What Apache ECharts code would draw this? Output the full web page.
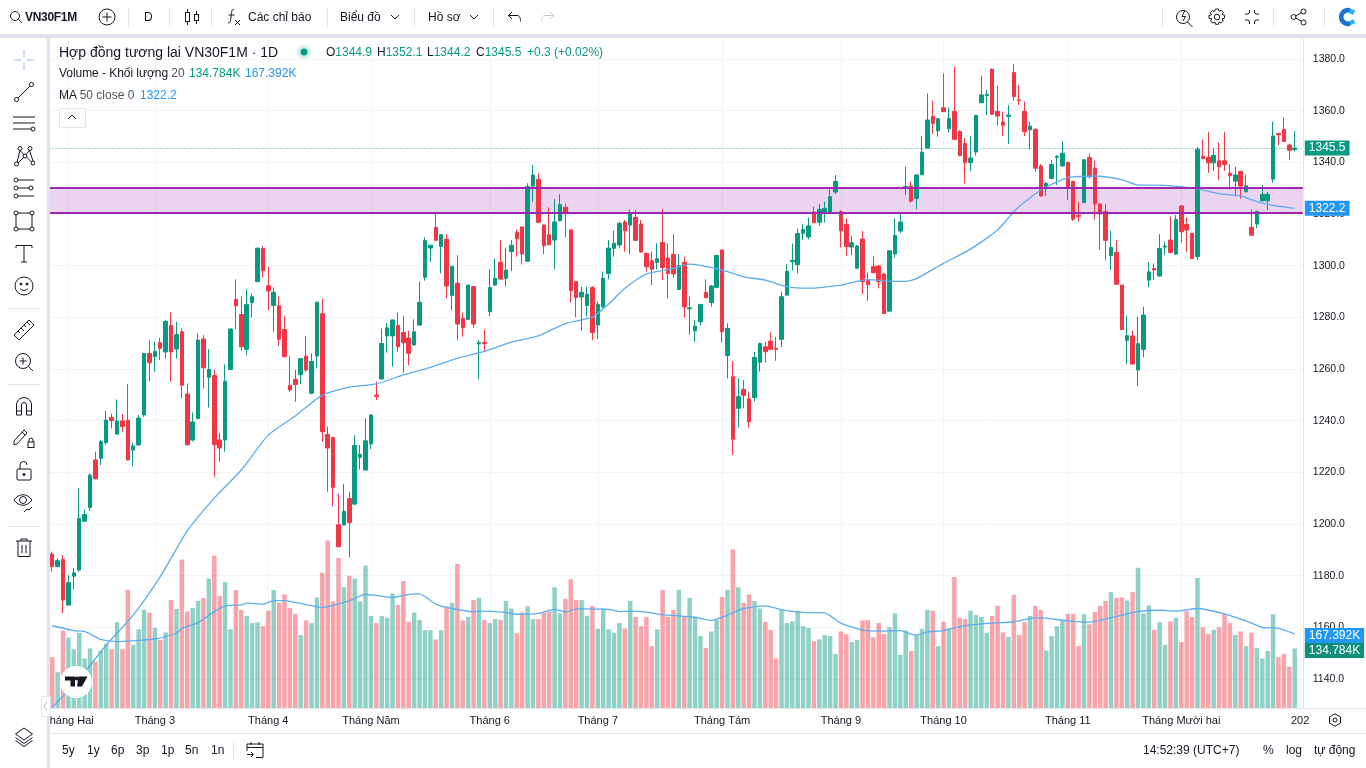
<!DOCTYPE html>
<html>
<head>
<meta charset="utf-8">
<title>VN30F1M</title>
<script src="https://cdn.jsdelivr.net/npm/echarts@6/dist/echarts.min.js"></script>
<style>
html,body{margin:0;padding:0;background:#fff;overflow:hidden;font-family:"Liberation Sans",Arial,sans-serif;color:#131722}
#chart{position:absolute;left:0;top:0;width:1366px;height:768px}
.p{position:absolute;background:#fff}
.b{position:absolute;background:#e0e3eb}
.t{position:absolute;white-space:nowrap;font-size:12px;line-height:16px}
.g{color:#089981}.bl{color:#2196f3}.m{color:#50535e}
svg{position:absolute;fill:none;stroke:#131722;stroke-width:1}
</style>
</head>
<body>
<div id="chart"></div>

<!-- top toolbar -->
<div class="p" style="left:0;top:0;width:1366px;height:34px"></div>
<div class="b" style="left:0;top:34px;width:1366px;height:4px"></div>
<!-- left toolbar -->
<div class="p" style="left:0;top:38px;width:47px;height:730px"></div>
<div class="b" style="left:47px;top:38px;width:2.5px;height:730px"></div>
<!-- bottom bar -->
<div class="p" style="left:49.5px;top:733px;width:1317px;height:35px"></div>
<div class="b" style="left:49.5px;top:733px;width:1317px;height:1px"></div>
<div class="b" style="left:1303px;top:708px;width:63px;height:1px"></div>

<svg style="left:9px;top:10px" width="14" height="14"><circle cx="6" cy="6" r="4.5"/><path d="M9.5 9.5L13 13"/></svg>
<span class="t" style="left:25px;top:9px;font-weight:bold;letter-spacing:-.3px">VN30F1M</span>
<svg style="left:98px;top:8px" width="18" height="18"><circle cx="9" cy="9" r="8"/><path d="M9 4.5v9M4.5 9h9"/></svg>
<div class="b" style="left:128px;top:7px;width:1px;height:20px"></div>
<span class="t" style="left:144px;top:9px">D</span>
<div class="b" style="left:169px;top:7px;width:1px;height:20px"></div>
<svg style="left:184px;top:8px" width="16" height="18"><rect x="1.5" y="4.5" width="4" height="9"/><path d="M3.5 1v3.5M3.5 13.5V17"/><rect x="10.5" y="6.5" width="4" height="6"/><path d="M12.5 3v3.5M12.5 12.5V16"/></svg>
<div class="b" style="left:211px;top:7px;width:1px;height:20px"></div>
<svg style="left:226px;top:8px" width="16" height="20"><path d="M8 1.5C5 1.5 6 4 5 9C4.500 12 5 15 2 15M2.500 7h6M9 12l5 5M14 12l-5 5"/></svg>
<span class="t" style="left:248px;top:9px">Các chỉ báo</span>
<div class="b" style="left:327px;top:7px;width:1px;height:20px"></div>
<span class="t" style="left:340px;top:9px">Biểu đồ</span>
<svg style="left:390px;top:14px" width="10" height="7"><path d="M1 1l4 4 4-4"/></svg>
<div class="b" style="left:414px;top:7px;width:1px;height:20px"></div>
<span class="t" style="left:428px;top:9px">Hồ sơ</span>
<svg style="left:469px;top:14px" width="10" height="7"><path d="M1 1l4 4 4-4"/></svg>
<div class="b" style="left:493px;top:7px;width:1px;height:20px"></div>
<svg style="left:507px;top:10px" width="15" height="14"><path d="M5 2L1.500 5.500 5 9M1.500 5.500H10c3 0 3.500 3 3.500 6"/></svg>
<svg style="left:540px;top:10px;stroke:#c8cad0" width="15" height="14"><path d="M10 2l3.500 3.500L10 9M13.500 5.500H5c-3 0-3.500 3-3.500 6"/></svg>

<div class="b" style="left:1162px;top:7px;width:1px;height:20px"></div>
<svg style="left:1175px;top:8px" width="20" height="20"><circle cx="8" cy="9" r="6.500"/><path d="M12.500 14l5 5M10 2L7 8.500h3.500L8 13"/></svg>
<svg style="left:1208px;top:8px" width="18" height="18"><circle cx="9" cy="9" r="2.800"/><path d="M7.500 1h3l.6 2.400 2.100-1.100 2.100 2.100-1.200 2.200 2.400.6v3l-2.400.6 1.200 2.200-2.100 2.100-2.100-1.200-.6 2.400h-3l-.6-2.400-2.200 1.200-2.100-2.100 1.200-2.200L1 10.500v-3l2.400-.6-1.200-2.200 2.100-2.100 2.200 1.100z"/></svg>
<svg style="left:1244px;top:9px" width="16" height="16"><path d="M1 5h2.500a2 2 0 0 0 2-2V1M15 5h-2.500a2 2 0 0 1-2-2V1M1 11h2.500a2 2 0 0 1 2 2v2M15 11h-2.500a2 2 0 0 0-2 2v2"/></svg>
<div class="b" style="left:1273px;top:7px;width:1px;height:20px"></div>
<svg style="left:1290px;top:8px" width="17" height="18"><circle cx="3.500" cy="9" r="2.500"/><circle cx="13.500" cy="3.500" r="2.500"/><circle cx="13.500" cy="14.500" r="2.500"/><path d="M5.800 8l5.500-3.300M5.800 10l5.500 3.300"/></svg>
<div class="b" style="left:1324px;top:7px;width:1px;height:20px"></div>
<svg style="left:1337px;top:7px;stroke:none" width="20" height="20"><path fill="#1976d2" stroke="none" d="M13 1A9.200 9.200 0 1 0 13 19L13 14A4.500 4.500 0 1 1 13 6Z"/><path fill="#26b6e8" stroke="none" d="M13 1.500L18.500 3.500 16 8 12 6ZM13 14L16 12 18.500 16 13 18.500Z"/></svg>

<!-- legend -->
<span class="t" style="left:59px;top:44px;font-size:14px">Hợp đồng tương lai VN30F1M · 1D</span>
<svg style="left:296px;top:44px;stroke:none" width="16" height="16"><circle cx="8" cy="8" r="7" fill="#d5efe9" stroke="none"/><circle cx="8" cy="8" r="3.500" fill="#089981" stroke="none"/></svg>
<span class="t" style="left:326px;top:44px">O<span class="g">1344.9</span></span>
<span class="t" style="left:377px;top:44px">H<span class="g">1352.1</span></span>
<span class="t" style="left:427px;top:44px">L<span class="g">1344.2</span></span>
<span class="t" style="left:476px;top:44px">C<span class="g">1345.5</span></span>
<span class="t g" style="left:527px;top:44px">+0.3 (+0.02%)</span>
<span class="t" style="left:59px;top:65px;letter-spacing:-.05px">Volume - Khối lượng <span class="m">20</span></span>
<span class="t g" style="left:189px;top:65px">134.784K</span>
<span class="t bl" style="left:245px;top:65px">167.392K</span>
<span class="t" style="left:59px;top:87px">MA <span class="m">50 close 0</span></span>
<span class="t bl" style="left:140px;top:87px">1322.2</span>
<div class="p" style="left:59px;top:108px;width:25px;height:18px;border:1px solid #e0e3eb;border-radius:2px"></div>
<svg style="left:67px;top:114px" width="10" height="7"><path d="M1 5l4-4 4 4"/></svg>

<!-- drawing tools -->
<svg style="left:13px;top:49px;stroke:#9db2e8" width="22" height="22"><path d="M11 1v7M11 14v7M1 11h7M14 11h7"/></svg>
<svg style="left:13px;top:81px" width="22" height="22"><circle cx="3.500" cy="18.500" r="2"/><circle cx="18.500" cy="3.500" r="2"/><path d="M5 17L17 5"/></svg>
<svg style="left:12px;top:114px" width="24" height="20"><path d="M1 3h22M1 9h22M1 15h18"/><circle cx="21" cy="15" r="2"/></svg>
<svg style="left:13px;top:145px" width="22" height="22"><circle cx="3.500" cy="19" r="2"/><circle cx="7" cy="3.500" r="2"/><circle cx="12" cy="11" r="2"/><circle cx="17" cy="3.500" r="2"/><circle cx="20" cy="18" r="2"/><path d="M4 17L7 5.500 11 9.500M13 9.500L16.500 5.500 20 16M5 18l6-6M13.500 12l5 5"/></svg>
<svg style="left:13px;top:177px" width="22" height="22"><circle cx="3" cy="3" r="2"/><circle cx="3" cy="11" r="2"/><circle cx="3" cy="19" r="2"/><circle cx="18" cy="11" r="2"/><path d="M5 3h16M5 11h11M5 19h16"/></svg>
<svg style="left:13px;top:210px" width="22" height="22"><rect x="3" y="3" width="16" height="16"/><circle cx="3" cy="3" r="2" fill="#fff"/><circle cx="19" cy="3" r="2" fill="#fff"/><circle cx="3" cy="19" r="2" fill="#fff"/><circle cx="19" cy="19" r="2" fill="#fff"/></svg>
<svg style="left:15px;top:244px" width="18" height="20"><path d="M1 4V1.500h16V4M9 1.500V18M6 18h6"/></svg>
<svg style="left:14px;top:276px" width="20" height="20"><circle cx="10" cy="10" r="9"/><circle cx="7" cy="8" r="1" fill="#131722"/><circle cx="13" cy="8" r="1" fill="#131722"/><path d="M6 12.500c2 2.500 6 2.500 8 0"/></svg>
<div class="b" style="left:8px;top:308px;width:32px;height:1px"></div>
<svg style="left:13px;top:319px" width="22" height="22"><path d="M1 16L16 1l5 5L6 21zM5 12l2 2M8 9l3 3M11 6l2 2M14 3l3 3"/></svg>
<svg style="left:14px;top:352px" width="20" height="20"><circle cx="9" cy="9" r="7.500"/><path d="M14.500 14.500L19 19M9 5.500v7M5.500 9h7"/></svg>
<div class="b" style="left:8px;top:384px;width:32px;height:1px"></div>
<svg style="left:15px;top:396px" width="18" height="20"><path d="M1.500 19V9a7.500 7.500 0 0 1 15 0v10h-5V9a2.500 2.500 0 0 0-5 0v10zM1.500 15h5M11.500 15h5"/></svg>
<svg style="left:13px;top:427px" width="22" height="22"><path d="M1 14L11 3l3 3L4 17l-3 .5zM9 5l3 3"/><rect x="15" y="15" width="6" height="5.500"/><path d="M16 15v-2a2 2 0 0 1 4 0v2"/></svg>
<svg style="left:16px;top:460px" width="16" height="22"><rect x="1" y="9" width="14" height="11" rx="1"/><path d="M4 9V5a3.500 3.500 0 0 1 7 0"/><circle cx="8" cy="14.500" r="1" fill="#131722"/></svg>
<svg style="left:13px;top:492px" width="22" height="22"><path d="M1 8c5-7 13-7 18 0c-5 7-13 7-18 0z"/><circle cx="10" cy="8" r="3.500"/><path d="M11 20l3-3 2 1 3-3"/></svg>
<div class="b" style="left:8px;top:526px;width:32px;height:1px"></div>
<svg style="left:16px;top:538px" width="16" height="20"><path d="M0 3h16M5 3V1h6v2M2 3v15.500h12V3M6 7v8M10 7v8"/></svg>
<svg style="left:14px;top:727px" width="20" height="20"><path d="M10 1l8.500 6-8.500 6-8.500-6zM1.500 10.500l8.500 6 8.500-6M1.500 13.500l8.500 6 8.500-6"/></svg>

<!-- logo and handle -->
<svg style="left:60px;top:666px;stroke:none" width="32" height="32"><circle cx="16" cy="16" r="16" fill="#fff" stroke="none"/><path fill="#131722" stroke="none" d="M5 10.500h10v10h-4.500v-6H5zM18.500 10.500h9l-5.500 10h-5z"/><circle cx="16.800" cy="12.500" r="2" fill="#131722" stroke="none"/></svg>
<div class="p" style="left:41px;top:696px;width:8px;height:19px;border:1px solid #e0e3eb;border-radius:2px 0 0 2px"></div>
<svg style="left:43px;top:701px;stroke:#b2b5be" width="6" height="10"><path d="M4 1L1 5l3 4"/></svg>

<!-- gear on the time scale -->
<svg style="left:1328px;top:713px" width="14" height="14"><path d="M7 .8l5.500 3.100v6.200L7 13.200 1.500 10.100V3.900z"/><circle cx="7" cy="7" r="2"/></svg>

<!-- bottom bar -->
<span class="t" style="left:62px;top:742px">5y</span>
<span class="t" style="left:87px;top:742px">1y</span>
<span class="t" style="left:111px;top:742px">6p</span>
<span class="t" style="left:136px;top:742px">3p</span>
<span class="t" style="left:161px;top:742px">1p</span>
<span class="t" style="left:185px;top:742px">5n</span>
<span class="t" style="left:211px;top:742px">1n</span>
<div class="b" style="left:233px;top:741px;width:1px;height:18px"></div>
<svg style="left:246px;top:741px" width="18" height="18"><path d="M1 10V3h16v13.500h-7M1 6.500h16M5 1v3M13 1v3M1 13.500h6M5 11l2.500 2.500L5 16"/></svg>
<span class="t" style="left:1143px;top:742px">14:52:39 (UTC+7)</span>
<span class="t" style="left:1263px;top:742px">%</span>
<span class="t" style="left:1286px;top:742px">log</span>
<span class="t" style="left:1314px;top:742px">tự động</span>

<script>
// price scale + candles
var opens = [
1188.4,1183.5,1186.3,1168.6,1179.8,1182.2,1201.1,1206.4,1224.8,1225.4,
1231.5,1241.3,1234.8,1239.9,1240.2,1228.6,1230.6,1242.2,1266,1264.8,
1270.2,1266.6,1276.9,1267.7,1274.4,1250.3,1232.5,1240.8,1271.6,1256.8,
1257.5,1232.5,1232.5,1259.8,1286.9,1281.1,1267.6,1285.7,1293.8,1306.6,
1292.2,1284.6,1284.5,1275.3,1253.7,1256,1257.8,1265,1250.6,1265,
1281.4,1234.7,1233.5,1199.7,1199.6,1209.9,1207.7,1225.8,1220.9,1231,
1249.9,1256.1,1272.8,1272.8,1276.9,1274.1,1272,1269.3,1277,1295.5,
1306.8,1314.8,1307.4,1310.3,1288.5,1293.2,1279.6,1279.2,1291.9,1269.7,
1270.3,1282.2,1292.5,1301.3,1295.1,1305.5,1312.8,1315,1301.7,1330.8,
1333.4,1315.7,1312,1309.9,1317.4,1322.6,1313.8,1293.8,1287.9,1284.6,
1291.5,1277,1284.1,1297,1306.7,1308,1316.9,1315.7,1318.7,1316.1,
1304.8,1301.9,1301.2,1309,1303,1304.4,1290.8,1301.3,1283.3,1274.8,
1278.3,1289.7,1285.7,1291.6,1306.1,1265.2,1257,1244.8,1252.1,1248.4,
1248.9,1262.6,1268.6,1270.8,1268,1271.5,1288.6,1301.5,1300.4,1312.5,
1311.1,1320.8,1316.8,1320.3,1320.6,1328.5,1320.9,1316,1307.2,1299,
1310.3,1294.4,1299.7,1299.9,1296.8,1282.4,1304.5,1313.4,1330.1,1330.8,
1326,1335.2,1345.5,1357.7,1352.2,1361.1,1353,1359.7,1351.9,1347.3,
1339.9,1344,1363.1,1365.9,1376,1359.7,1355.6,1357.8,1374.8,1364.2,
1359.7,1352.6,1352.8,1338.6,1329.8,1333.8,1341.9,1338.6,1340,1332.6,
1319.5,1324.5,1341.9,1337.7,1323.9,1321,1303.9,1305.1,1292.5,1271.1,
1272.8,1259.6,1267.6,1294.4,1298.9,1296,1307.2,1309.9,1304.5,1323.1,
1316,1312.5,1303.5,1342.4,1341.9,1339.8,1340.6,1340.6,1335.8,1332.7,
1336.5,1328.6,1314.8,1316.1,1325.1,1325.1,1333.5,1351.2,1352.7,1346.7,
1344.9];
var closes = [
1183.5,1185.8,1170.6,1177.3,1181.1,1202.2,1203.7,1218.9,1217.5,1231.9,
1240.2,1240,1239.9,1237.7,1224.8,1230.2,1241,1266,1262.4,1266.8,
1268,1278.4,1266.6,1273.3,1253.7,1230.7,1239.5,1271.2,1260.5,1259.8,
1230.7,1229.4,1255.2,1275.5,1284.4,1268.6,1284.9,1288,1306.8,1298,
1290.2,1289.7,1271.5,1264.8,1251.9,1254,1264,1259.6,1262.9,1285.9,
1235.7,1229.4,1214.2,1191.2,1204.9,1200.5,1230.4,1226.9,1232.2,1242.2,
1249.4,1269.9,1275.9,1279,1268.6,1270.2,1266.1,1274.4,1285.8,1309.7,
1307.9,1309.8,1312,1292.1,1299.7,1277.4,1276,1292.5,1277.4,1270.2,
1269.8,1291.5,1295.1,1294.8,1298.3,1307.9,1310.4,1304.5,1330.6,1335.1,
1316.8,1307.7,1308.1,1316.9,1323.6,1320.3,1290.3,1287.7,1289.7,1289,
1274.1,1285,1295.1,1306.8,1308.6,1316.4,1313.5,1320.5,1309.8,1305.3,
1299.6,1298.6,1302.7,1299.3,1297,1296.8,1300.1,1284,1283.7,1276.6,
1285,1287.6,1292.1,1304,1274.4,1275.7,1232.8,1249.3,1249.8,1239.6,
1264.5,1269.9,1266.7,1267.6,1267.6,1288,1297.8,1302.1,1312.4,1314,
1315.4,1316.6,1321.8,1322.2,1326.7,1332.6,1313.5,1307.4,1308.9,1307.6,
1293.8,1292.6,1297.3,1293.8,1281.5,1305.8,1311.7,1316.9,1330.6,1325,
1335.1,1343.9,1356.4,1355.1,1356.9,1359.6,1357,1348.9,1342.6,1339.9,
1341.7,1358.2,1366.1,1366.4,1358.6,1357.9,1354.4,1358.3,1365.5,1363.9,
1351.9,1354,1337.7,1327,1331.9,1339.2,1342.3,1343.5,1329.9,1318,
1319,1341,1334.4,1323.9,1320,1309.8,1307.1,1292.8,1275.3,1272.9,
1261.9,1269.8,1280.9,1297.6,1298.3,1306.7,1307.6,1305.1,1317.9,1313.1,
1313.8,1302.8,1345,1341.5,1339.8,1342.7,1338.3,1339.2,1334.8,1335.1,
1330.8,1330.9,1311.8,1321,1327.6,1327.6,1350.2,1350.7,1348.1,1344.7,
1345.5];
var highs = [
1189.3,1186.7,1188,1180.2,1183,1213.8,1205.7,1219.6,1228,1232.5,
1243.8,1242.8,1248.2,1242.6,1254.2,1231.5,1242.2,1266.3,1271.2,1270.6,
1272.1,1279,1281.9,1278.3,1275.7,1254.4,1243.2,1273.8,1273.1,1267.7,
1259.6,1235.3,1261.8,1275.7,1294.7,1288,1290.8,1289.3,1306.8,1307.6,
1299.6,1291.6,1288,1280.5,1265,1259.6,1264.2,1272.8,1266,1285.9,
1287.2,1237.7,1233.5,1211.9,1215.5,1212.5,1234.4,1230.6,1240.9,1242.5,
1255.1,1275.7,1277.7,1279,1281.8,1280.5,1274.8,1279.2,1293.8,1311,
1308.1,1320.3,1312.2,1312.2,1300,1304.1,1281.8,1292.5,1292.1,1271.2,
1275.3,1298.6,1302.7,1309.9,1307,1309.9,1314.1,1315.1,1331.9,1339,
1335.7,1316,1322.6,1325.7,1327.7,1323.9,1314.1,1294.1,1291.9,1291.9,
1292.1,1286.1,1297.7,1309.9,1313.5,1317,1317.7,1321.8,1321.5,1317.7,
1305,1305.4,1308.6,1321.9,1308.6,1312.2,1304.5,1303.5,1288,1279,
1285,1294.7,1292.5,1304,1306.1,1277.7,1263.1,1256.4,1255.7,1251.2,
1266.7,1270.2,1270.6,1274.2,1272.5,1289.9,1300.6,1308.6,1314.4,1316.1,
1318.7,1322.8,1323.9,1324.8,1329.9,1335.1,1321.5,1318.3,1311.5,1308,
1313.4,1297.4,1303.5,1300.1,1297,1305.8,1318.3,1320,1338.3,1332.5,
1335.3,1350.2,1366.7,1363.9,1357.1,1374.4,1361.3,1377,1352.5,1349.3,
1350.2,1358.2,1373.5,1368,1376.4,1369.7,1359.6,1362.2,1378,1369.9,
1363.5,1355.7,1353.1,1339.3,1332.5,1340.9,1342.8,1348.2,1340.2,1332.9,
1324.8,1341,1343.5,1340.6,1324.1,1323.9,1313.5,1309.9,1292.5,1280.6,
1274.8,1280.2,1284.1,1301.5,1300.9,1312.2,1309.3,1319,1319.6,1323.5,
1318.7,1312.7,1346,1348.9,1351.8,1345.4,1347.7,1351.8,1339.3,1338.3,
1336.7,1335.1,1321.8,1321.3,1331.2,1328.6,1355.7,1351.2,1357.4,1347.3,
1352.1];
var lows = [
1181.5,1183.2,1165.5,1168.6,1174.8,1181.5,1200.9,1205.1,1217.3,1222.8,
1230.8,1237,1234.6,1235.7,1224.5,1222.2,1230.3,1241.5,1255.1,1258.9,
1263.5,1264,1255.1,1264,1248.6,1230.4,1232,1240.5,1252.5,1245.1,
1218.3,1224.1,1228,1259.6,1275.3,1267.1,1265.4,1280,1293.8,1295.5,
1282.8,1274.4,1268.9,1264.5,1251.2,1247.3,1254.2,1258.9,1250.3,1260.2,
1231.8,1212.5,1206.7,1191.2,1199.6,1187.1,1207.3,1221.1,1220.6,1229,
1248,1256.1,1266.3,1260.9,1266.7,1258.6,1261.5,1269,1276.8,1294.2,
1301.5,1309.5,1297,1287.3,1282.8,1271.2,1272.5,1279,1275.9,1256.1,
1266.7,1280.5,1292.1,1294.7,1291.9,1297.9,1303.5,1300.5,1301.4,1324.8,
1316.4,1304.5,1307.9,1298.6,1317.2,1311,1285.7,1280,1274.8,1280.3,
1271.2,1271.7,1283.5,1294.7,1303.5,1306.7,1305.4,1304.5,1309.5,1305,
1297.7,1292.5,1298.6,1294.4,1287.3,1295.1,1290.6,1280,1273.2,1270.6,
1277,1287.3,1284.1,1291.2,1270.2,1256.4,1226.7,1237.3,1244.8,1237.3,
1247.4,1259,1262.4,1267.3,1263.2,1268.4,1288.4,1298.1,1297,1309.9,
1310.2,1316.6,1315.4,1316.8,1320.4,1327.7,1307.1,1303.9,1304.1,1298.7,
1289,1286.4,1297,1291.2,1281.5,1282.2,1303.2,1312.5,1327.3,1324.4,
1321.8,1335,1345.3,1351,1349.9,1359.5,1351.5,1348.6,1342.3,1331.9,
1336.6,1342.7,1362.8,1358.3,1358.3,1354.2,1350.2,1347.1,1363.9,1362.2,
1350.2,1345,1336.4,1326.7,1326.9,1333.5,1331.2,1338.3,1325.4,1317.3,
1317,1324.1,1333.8,1317.9,1306.1,1302.2,1298.3,1292.5,1275.3,1261.9,
1261.9,1253.4,1264.5,1291.6,1294.4,1295.7,1304.1,1304.7,1304.2,1308.9,
1305.4,1302.5,1302.2,1341.1,1336,1336.7,1333.1,1336.7,1329.5,1326.7,
1326,1328.4,1311.6,1314.5,1324.9,1321.5,1332.1,1346.7,1347.8,1340.9,
1344.2];
// volume in K
var volumes = [
115,81,175,159,133,170,112,135,105,130,
145,133,194,133,267,143,178,222,216,181,
154,171,244,224,336,218,226,242,249,293,
344,253,285,178,267,222,208,192,194,185,
220,267,238,257,226,213,165,198,192,250,
306,379,241,339,273,299,293,241,322,208,
192,208,204,259,233,287,195,216,199,176,
176,155,176,229,238,326,198,206,244,249,
199,192,201,199,242,225,169,216,230,201,
201,216,218,273,214,247,291,244,244,208,
231,179,225,178,170,192,180,242,206,185,
206,140,178,267,206,222,267,206,249,207,
163,136,173,199,251,267,359,273,238,257,
242,225,195,177,112,223,192,196,219,185,
181,151,155,165,163,122,173,167,149,154,
198,199,160,192,167,183,214,120,175,129,
164,179,222,220,140,195,180,296,204,201,
220,210,206,170,208,231,171,161,256,165,
194,208,231,222,130,163,185,198,213,213,
140,212,189,217,231,242,262,249,250,243,
262,317,214,232,177,194,143,196,204,149,
219,206,294,183,167,177,183,213,192,165,
173,140,170,136,112,129,212,115,122,93.5,
134.784];
// moving averages, sampled by eye at these bar numbers
var maPriceBars = [0,5,10,15,20,25,30,35,40,45,50,55,60,65,70,75,80,85,90,95,100,103,106,110,115,118,124,128,132,136,140,146,151,155,158,160,165,170,175,178,180,183,186,188,193,198,201,204,208,212,216,220,223,226,230];
var maPriceVals = [1129.1,1140,1153.1,1164.7,1179.6,1197.3,1210,1220.9,1234.4,1241.8,1249.9,1253,1254.2,1257.7,1260.6,1264.2,1266.8,1270.4,1272.8,1277.6,1280.1,1285.1,1291.3,1296.8,1298.9,1300.6,1298.3,1295.7,1294.4,1291.9,1291.3,1292.5,1294.6,1294,1293.9,1295,1300.9,1306.4,1313.8,1320.9,1324.6,1329.3,1332.4,1334.1,1334.7,1333.3,1331.2,1331.2,1330.8,1329.7,1327.9,1327,1324.8,1323.3,1322.2];
var maVolBars = [0,4,6,9,12,16,19,23,24,27,30,32,35,36,39,41,43,47,50,52,55,58,63,66,68,71,74,78,79,84,86,90,93,95,97,103,105,107,110,113,119,122,125,128,132,135,139,143,146,150,153,157,159,160,162,165,168,170,174,178,182,184,188,192,197,201,205,208,212,217,220,222,224,227,230];
var maVolVals = [186,175,173,155,150,153,156,169,180,193,218,231,233,237,235,243,243,234,227,232,242,257,250,257,258,235,225,218,219,216,212,214,223,217,224,223,218,219,217,211,205,198,210,225,231,222,216,215,192,176,174,175,167,165,172,175,184,188,192,195,204,203,197,194,207,218,221,219,225,213,201,192,182,180,167.392];
// time scale
var monthBars = [3,19,40,59,81,101,124,146,165,188,209,231];
var monthNames = ['Tháng Hai','Tháng 3','Tháng 4','Tháng Năm','Tháng 6','Tháng 7','Tháng Tám','Tháng 9','Tháng 10','Tháng 11','Tháng Mười hai','202'];
var barCount = 232;
// levels
var zoneTop = 1330, zoneBottom = 1320.3;
var lastPrice = 1345.5, lastMa = 1322.2, lastVol = 134.784, lastVolMa = 167.392;

var UP = '#089981', DOWN = '#f23645', BLUE = '#2196f3', MA_LINE = '#5cacee';
var FONT = '"Liberation Sans",Arial,sans-serif';

var categories = [];
for (var i = 0; i < barCount; i++) {
  var k = monthBars.indexOf(i);
  categories.push(k >= 0 ? monthNames[k] : '');
}
var candleData = opens.map(function (o, i) { return [o, closes[i], lows[i], highs[i]]; });
var volData = volumes.map(function (v, i) {
  return {value: v, itemStyle: {color: closes[i] >= opens[i] ? 'rgba(8,153,129,0.45)' : 'rgba(242,54,69,0.45)'}};
});

var tagText = {};
tagText[lastPrice] = '1345.5'; tagText[lastMa] = '1322.2';
tagText[lastVol] = '134.784K'; tagText[lastVolMa] = '167.392K';

function tag(value, color, offsetY) {
  return {
    yAxis: value,
    lineStyle: {color: 'rgba(0,0,0,0)', width: 0},
    label: {
      show: true, position: 'end', distance: 2, formatter: tagText[value],
      color: '#fff', backgroundColor: color, fontFamily: FONT, fontSize: 12,
      padding: [2, 4, 1, 4], offset: [0, offsetY || 0]
    }
  };
}

var chart = echarts.init(document.getElementById('chart'));
var option = {
  animation: false,
  grid: [
    {left: 49.5, width: 1253.3, top: 7.33, height: 723.34},
    {left: 49.5, width: 1253.3, top: 38, height: 670}
  ],
  xAxis: [
    {type: 'category', gridIndex: 0, data: categories, show: false},
    {
      type: 'category', gridIndex: 1, data: categories,
      axisLine: {lineStyle: {color: '#e0e3eb'}},
      axisTick: {show: false},
      axisLabel: {interval: 0, color: '#131722', fontFamily: FONT, fontSize: 11, margin: 7},
      splitLine: {
        show: true, alignWithLabel: true,
        interval: function (idx) { return monthBars.indexOf(idx) >= 0; },
        lineStyle: {color: '#f3f4f7', width: 1}
      }
    }
  ],
  yAxis: [
    {
      type: 'value', gridIndex: 0, position: 'right', min: 1120, max: 1400, interval: 20,
      axisLine: {show: false}, axisTick: {show: false},
      axisLabel: {
        showMinLabel: false, showMaxLabel: false, color: '#131722', fontFamily: FONT, fontSize: 10.5, margin: 10,
        formatter: function (v) { return v.toFixed(1); }
      },
      splitLine: {showMinLine: false, showMaxLine: false, lineStyle: {color: '#f3f4f7', width: 1}}
    },
    {
      type: 'value', gridIndex: 1, position: 'right', min: 0, max: 1515,
      axisLine: {show: true, lineStyle: {color: '#e0e3eb'}},
      axisTick: {show: false}, axisLabel: {show: false}, splitLine: {show: false}
    }
  ],
  series: [
    {
      name: 'Volume', type: 'bar', xAxisIndex: 1, yAxisIndex: 1, z: 1,
      barWidth: 4.5, data: volData,
      markLine: {
        silent: true, symbol: 'none', animation: false, z: 6,
        data: [tag(lastVol, '#0b8f7a', 2)]
      }
    },
    {
      name: 'Volume MA', type: 'line', xAxisIndex: 1, yAxisIndex: 1, z: 3,
      showSymbol: false, smooth: 0.2, lineStyle: {color: MA_LINE, width: 1.3},
      data: maVolBars.map(function (b, i) { return [b, maVolVals[i]]; }),
      markLine: {
        silent: true, symbol: 'none', animation: false, z: 6,
        data: [tag(lastVolMa, BLUE, 1.5)]
      }
    },
    {
      name: 'VN30F1M', type: 'candlestick', xAxisIndex: 0, yAxisIndex: 0, z: 2,
      barWidth: 4, data: candleData,
      itemStyle: {color: UP, color0: DOWN, borderColor: UP, borderColor0: DOWN, borderWidth: 1},
      markArea: {
        silent: true, animation: false,
        itemStyle: {color: 'rgba(156,39,176,0.2)'},
        data: [[{yAxis: zoneBottom}, {yAxis: zoneTop}]]
      },
      markLine: {
        silent: true, symbol: 'none', animation: false, label: {show: false},
        data: [
          {yAxis: zoneTop, lineStyle: {color: '#9c27b0', width: 2, type: 'solid'}},
          {yAxis: zoneBottom, lineStyle: {color: '#9c27b0', width: 2, type: 'solid'}},
          {
            yAxis: lastPrice, lineStyle: {color: 'rgba(8,153,129,0.75)', width: 1, type: [1, 2]},
            label: {
              show: true, position: 'end', distance: 2, formatter: tagText[lastPrice],
              color: '#fff', backgroundColor: UP, fontFamily: FONT, fontSize: 12, padding: [2, 4, 1, 4]
            }
          }
        ]
      }
    },
    {
      name: 'MA 50', type: 'line', xAxisIndex: 0, yAxisIndex: 0, z: 3,
      showSymbol: false, smooth: 0.2, lineStyle: {color: MA_LINE, width: 1.3},
      data: maPriceBars.map(function (b, i) { return [b, maPriceVals[i]]; }),
      markLine: {
        silent: true, symbol: 'none', animation: false, z: 6,
        data: [tag(lastMa, BLUE, 0)]
      }
    }
  ]
};
chart.setOption(option);
</script>
</body>
</html>
